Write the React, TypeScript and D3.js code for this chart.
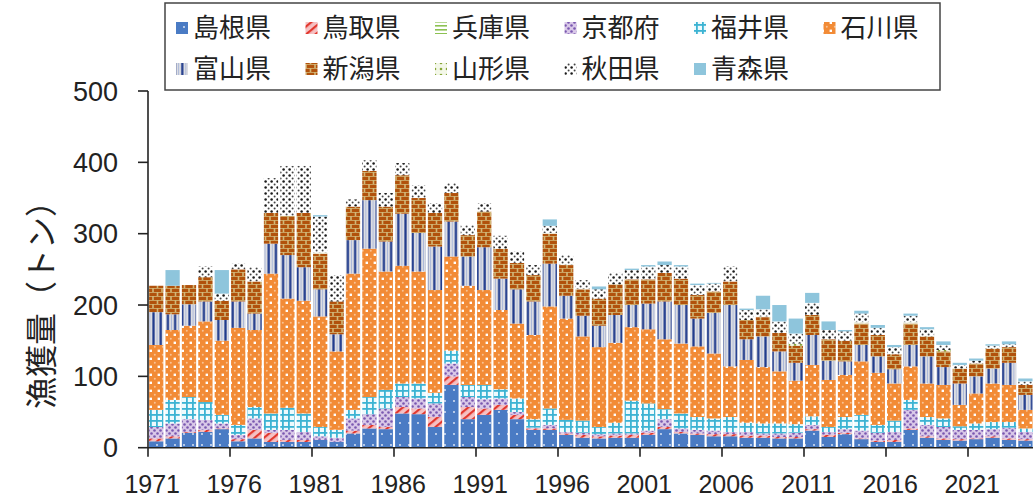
import React from 'react';
import * as d3 from 'd3';

const years: number[] = d3.range(1971, 2025);
const prefectures = ['島根県', '鳥取県', '兵庫県', '京都府', '福井県', '石川県', '富山県', '新潟県', '山形県', '秋田県', '青森県'];

const shimane = [9,13,21,22,26,9,13,8,8,8, 11,8,20,27,26,48,47,29,88,40, 46,53,40,25,25,18,14,13,14,14, 18,26,20,18,16,16,14,14,13,13, 24,15,19,12,8,8,25,14,11,10, 12,14,11,10];
const tottori = [4,3,1,3,1,3,12,13,3,3, 0,0,4,5,3,9,8,14,12,17, 9,7,6,2,2,2,4,3,3,4, 3,3,2,2,3,3,3,3,2,2, 2,3,2,1,2,3,2,2,2,2, 1,2,2,2];
const hyogo = [0,0,0,0,0,0,0,0,0,0, 0,0,0,0,0,0,0,0,0,0, 0,0,0,0,0,0,0,0,0,0, 0,0,0,0,0,0,0,0,0,0, 0,0,0,0,0,0,0,0,0,0, 0,0,0,0];
const kyoto = [16,18,18,14,7,6,16,4,14,11, 5,6,17,15,26,14,14,19,18,14, 13,9,4,1,5,2,3,3,3,2, 3,11,5,5,5,3,5,3,5,6, 6,4,5,11,11,11,26,16,16,13, 12,10,15,10];
const fukui = [24,33,31,25,12,14,16,23,31,26, 13,11,12,24,26,19,21,15,18,17, 20,13,19,12,23,17,17,10,15,46, 38,14,21,18,17,21,13,14,14,12, 12,7,17,22,11,16,14,11,12,5, 9,10,8,5];
const ishikawa = [91,98,100,113,104,136,108,196,153,158, 155,110,191,208,166,165,157,144,132,139, 133,111,105,118,143,142,118,112,112,103, 104,98,98,99,91,71,88,79,73,61, 72,66,59,75,73,52,47,47,47,30, 42,54,52,26];
const toyama = [46,22,30,28,29,37,23,42,61,47, 38,24,47,68,42,73,54,61,49,41, 60,44,48,47,60,32,29,30,39,31, 36,53,54,39,57,86,29,43,28,25, 42,27,19,23,23,20,30,38,25,30, 24,21,31,21];
const niigata = [37,40,27,34,27,45,45,43,55,76, 50,46,47,41,49,54,49,47,40,30, 50,42,37,37,42,43,37,38,43,36, 34,40,37,33,30,33,27,27,26,24, 28,30,29,30,30,21,30,28,22,21, 18,28,22,14];
const yamagata = [0,0,0,0,0,0,0,0,0,0, 2,0,0,0,0,0,0,0,0,0, 0,0,0,0,1,1,1,0,0,0, 0,0,0,0,0,0,0,1,0,3, 0,0,0,2,0,0,2,0,2,0, 0,0,0,0];
const akita = [0,0,0,15,10,8,20,49,70,66, 50,37,10,15,19,17,18,14,14,14, 12,18,16,14,10,13,12,13,16,13, 18,11,17,14,11,21,14,10,16,14, 17,13,13,12,10,10,9,10,7,5, 4,4,4,5];
const aomori = [0,22,0,0,33,0,0,0,0,0, 2,0,0,0,0,0,0,0,0,0, 0,0,0,0,9,0,0,4,0,2, 2,5,2,2,1,0,2,19,23,21, 14,12,2,4,4,3,3,3,5,3, 3,2,4,4];

const seriesValues = [shimane, tottori, hyogo, kyoto, fukui, ishikawa, toyama, niigata, yamagata, akita, aomori];
const yTicks = [0, 100, 200, 300, 400, 500];
const xTickLabels = ['1971', '1976', '1981', '1986', '1991', '1996', '2001', '2006', '2011', '2016', '2021'];
const patternIds = ['pShimane', 'pTottori', 'pHyogo', 'pKyoto', 'pFukui', 'pIshikawa', 'pToyama', 'pNiigata', 'pYamagata', 'pAkita', 'pAomori'];

const NUM_FONT = '"Liberation Sans", Arial, sans-serif';
const JP_FONT = '"Noto Sans CJK JP", "Noto Sans", sans-serif';

export default function App() {
  const W = 1033, H = 500;
  const x = d3.scaleBand<number>().domain(years).range([148, 1033.6]).paddingInner(0.13).paddingOuter(0.065);
  const y = d3.scaleLinear().domain([0, 500]).range([447.7, 91]);
  const table = years.map((yr, i) => {
    const row: any = { year: yr };
    prefectures.forEach((p, k) => { row[p] = seriesValues[k][i]; });
    return row;
  });
  const stacked = d3.stack<any>().keys(prefectures)(table);
  const gap = (x.step() - x.bandwidth()) / 2;

  return (
    <div style={{ position: 'fixed', left: 0, top: 0, width: W, height: H, overflow: 'hidden', background: '#fff' }}>
      <svg width={W} height={H} style={{ display: 'block' }}>
        <defs>
          <pattern id="pShimane" width="9" height="11" patternUnits="userSpaceOnUse">
            <rect width="9" height="11" fill="#4a7bc4" />
            <circle cx="4" cy="5" r="0.9" fill="#e8eef9" />
          </pattern>
          <pattern id="pTottori" width="6" height="6" patternUnits="userSpaceOnUse" patternTransform="rotate(-40)">
            <rect width="6" height="6" fill="#f5c1c3" />
            <rect width="6" height="2.2" fill="#e2372d" />
          </pattern>
          <pattern id="pHyogo" width="4" height="4" patternUnits="userSpaceOnUse">
            <rect width="4" height="4" fill="#ffffff" />
            <rect y="1" width="4" height="1.6" fill="#8cc152" />
          </pattern>
          <pattern id="pKyoto" width="6" height="6" patternUnits="userSpaceOnUse">
            <rect width="6" height="6" fill="#d9c8e8" />
            <circle cx="1.5" cy="1.5" r="1.3" fill="#7a58b0" />
            <circle cx="4.5" cy="4.5" r="1.3" fill="#7a58b0" />
          </pattern>
          <pattern id="pFukui" width="6" height="6" patternUnits="userSpaceOnUse">
            <rect width="6" height="6" fill="#eefafd" />
            <rect x="0" width="1.8" height="6" fill="#3cb3d3" />
            <rect y="0" width="6" height="1.8" fill="#3cb3d3" />
          </pattern>
          <pattern id="pIshikawa" width="8" height="8" patternUnits="userSpaceOnUse">
            <rect width="8" height="8" fill="#f28b36" />
            <rect x="5.6" y="5.6" width="2.6" height="2.6" fill="#ffffff" />
            <circle cx="2.8" cy="2.8" r="1" fill="#f9c395" />
          </pattern>
          <pattern id="pToyama" width="7.2" height="10" patternUnits="userSpaceOnUse">
            <rect width="7.2" height="10" fill="#dcdde2" />
            <rect x="1.2" width="2.2" height="10" fill="#1f3a8c" />
            <rect x="5.4" width="0.8" height="10" fill="#a3b2d8" />
          </pattern>
          <pattern id="pNiigata" width="9" height="8" patternUnits="userSpaceOnUse">
            <rect width="9" height="8" fill="#d2b878" />
            <rect x="0.8" y="0.8" width="7.4" height="3.2" fill="#b1520c" />
            <rect x="-3.7" y="4.8" width="7.4" height="3.2" fill="#b1520c" />
            <rect x="5.3" y="4.8" width="7.4" height="3.2" fill="#b1520c" />
          </pattern>
          <pattern id="pYamagata" width="6" height="6" patternUnits="userSpaceOnUse">
            <rect width="6" height="6" fill="#f3f7e8" />
            <circle cx="3" cy="3" r="1.3" fill="#86a638" />
          </pattern>
          <pattern id="pAkita" width="6" height="6" patternUnits="userSpaceOnUse">
            <rect width="6" height="6" fill="#ffffff" />
            <circle cx="1.6" cy="1.6" r="1.25" fill="#1a1a1a" />
            <circle cx="4.6" cy="4.6" r="1.0" fill="#444" />
          </pattern>
          <pattern id="pAomori" width="4" height="4" patternUnits="userSpaceOnUse">
            <rect width="4" height="4" fill="#8ec5dc" />
          </pattern>
        </defs>

        {/* bars */}
        {stacked.map((layer, k) => (
          <g key={layer.key} fill={`url(#${patternIds[k]})`}>
            {layer.map((d, i) => {
              const h = y(d[0]) - y(d[1]);
              if (h <= 0) return null;
              return <rect key={i} x={x(years[i])} y={y(d[1])} width={x.bandwidth()} height={h} />;
            })}
          </g>
        ))}

        {/* y axis */}
        <line x1={148} x2={148} y1={y(0)} y2={y(500)} stroke="#222" strokeWidth={1.6} />
        {yTicks.map(t => (
          <g key={t}>
            <line x1={138} x2={148} y1={y(t)} y2={y(t)} stroke="#222" strokeWidth={1.6} />
            <text x={118} y={y(t)} dy="0.36em" textAnchor="end" fontFamily={NUM_FONT} fontSize={27} fill="#222">{t}</text>
          </g>
        ))}

        {/* x axis */}
        <line x1={148} x2={1033} y1={y(0)} y2={y(0)} stroke="#222" strokeWidth={1.6} />
        {xTickLabels.map(lbl => {
          const yr = +lbl;
          const bx = (x(yr) as number) - gap;
          return (
            <g key={lbl}>
              <line x1={bx} x2={bx} y1={y(0)} y2={y(0) + 9} stroke="#222" strokeWidth={1.6} />
              <text x={(x(yr) as number) + x.bandwidth() / 2 - 4} y={493} textAnchor="middle" fontFamily={NUM_FONT} fontSize={25} fill="#222">{lbl}</text>
            </g>
          );
        })}

        {/* y label */}
        <text transform="translate(44,297) rotate(-90)" textAnchor="middle" dominantBaseline="middle" fontFamily={JP_FONT} fontSize={32} fill="#222">漁獲量（トン）</text>

        {/* legend */}
        <rect x={165} y={3} width={775} height={87} fill="#fff" stroke="#444" strokeWidth={1.5} />
        {prefectures.map((p, k) => {
          const row = k < 6 ? 0 : 1;
          const col = k < 6 ? k : k - 6;
          const x0 = 176 + col * 129.5;
          const cy = row === 0 ? 28 : 69;
          return (
            <g key={p}>
              <rect x={x0} y={cy - 6} width={12} height={12} fill={`url(#${patternIds[k]})`} />
              <text x={x0 + 17} y={cy} dy="0.36em" fontFamily={JP_FONT} fontSize={26} fill="#222">{p}</text>
            </g>
          );
        })}
      </svg>
    </div>
  );
}
